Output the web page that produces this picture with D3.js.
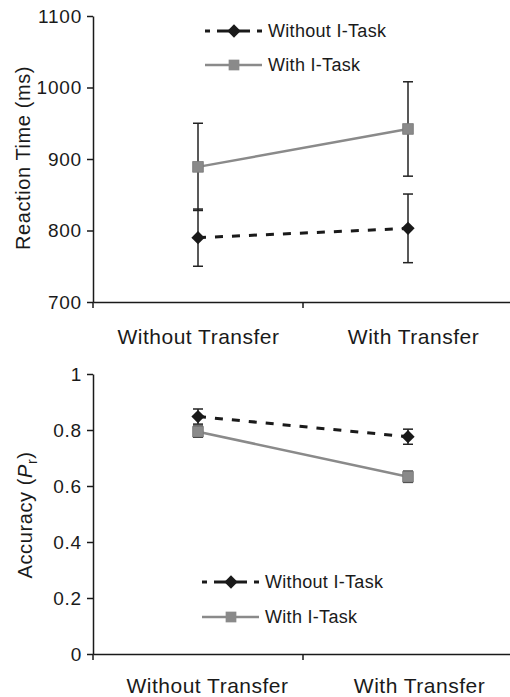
<!DOCTYPE html>
<html>
<head>
<meta charset="utf-8">
<script src="https://cdn.jsdelivr.net/npm/d3@7"></script>
<style>
  body { margin: 0; background: #fff; }
  text { font-family: "Liberation Sans", Arial, sans-serif; fill: #1a1a1a; }
</style>
</head>
<body>
<div id="chart"></div>
<script>
var categories = ["Without Transfer", "With Transfer"];
var seriesNames = ["Without I-Task", "With I-Task"];

// reaction time (ms)
var rtWithout = [790, 803];
var rtWithoutErr = [40, 48];
var rtWith = [889, 942];
var rtWithErr = [61, 66];
var rtTicks = [700, 800, 900, 1000, 1100];

// accuracy (Pr)
var accWithout = [0.848, 0.776];
var accWithoutErr = [0.027, 0.027];
var accWith = [0.794, 0.633];
var accWithErr = [0.02, 0.02];
var accTicks = [0, 0.2, 0.4, 0.6, 0.8, 1];

var W = 510, H = 697;
var svg = d3.select('#chart').append('svg')
    .attr('width', W)
    .attr('height', H);

var black = '#1a1a1a', grey = '#8a8a8a';

var x = d3.scalePoint()
    .domain(categories)
    .range([93, 513])
    .padding(0.5);

function drawPanel(cfg) {
    var g = svg.append('g');
    var y = d3.scaleLinear().domain(cfg.domain).range([cfg.bottom, cfg.top]);

    // y axis
    var yAxis = d3.axisLeft(y)
        .tickValues(cfg.ticks)
        .tickFormat(cfg.format)
        .tickSizeInner(6)
        .tickSizeOuter(0)
        .tickPadding(5);
    var ya = g.append('g').attr('transform', 'translate(93,0)').call(yAxis);
    ya.select('.domain').attr('stroke', black).attr('stroke-width', 1.5);
    ya.selectAll('.tick line').attr('stroke', black).attr('stroke-width', 1.5);
    ya.selectAll('.tick text')
        .style('font-size', '19px')
        .style('letter-spacing', '0.8px')
        .attr('fill', black);
    g.append('line')
        .attr('x1', 93).attr('x2', 93)
        .attr('y1', cfg.bottom).attr('y2', cfg.bottom + 6)
        .attr('stroke', black).attr('stroke-width', 1.5);

    // x axis
    var xa = g.append('g').attr('transform', 'translate(0,' + cfg.bottom + ')')
        .call(d3.axisBottom(x).tickSize(0).tickPadding(cfg.labelPad));
    xa.select('.domain').attr('stroke', black).attr('stroke-width', 1.5);
    xa.selectAll('.tick text')
        .attr('dx', function (d, i) { return cfg.labelDx[i]; })
        .style('font-size', '21px')
        .style('letter-spacing', '0.5px')
        .attr('fill', black);
    var mid = (x(categories[0]) + x(categories[1])) / 2;
    g.append('line')
        .attr('x1', mid).attr('x2', mid)
        .attr('y1', cfg.bottom).attr('y2', cfg.bottom + 6)
        .attr('stroke', black).attr('stroke-width', 1.5);

    // y title
    var t = g.append('text')
        .attr('transform', 'translate(' + cfg.titleX + ',' + cfg.titleY + ') rotate(-90)')
        .attr('text-anchor', 'middle')
        .style('font-size', '20px')
        .style('letter-spacing', '0.6px');
    cfg.title(t);

    var series = [
        {vals: cfg.without, errs: cfg.withoutErr, color: black, dash: '8,9', legendDash: '5,7,33,7,5,20', width: 3, shape: 'diamond'},
        {vals: cfg.withv, errs: cfg.withErr, color: grey, dash: null, legendDash: null, width: 2.5, shape: 'square'}
    ];

    // error bars
    series.forEach(function (s) {
        var eb = g.append('g');
        s.vals.forEach(function (v, i) {
            var cx = x(categories[i]);
            var lo = y(v - s.errs[i]), hi = y(v + s.errs[i]);
            eb.append('line').attr('x1', cx).attr('x2', cx).attr('y1', lo).attr('y2', hi)
                .attr('stroke', '#222').attr('stroke-width', 1.5);
            [lo, hi].forEach(function (yy) {
                eb.append('line').attr('x1', cx - 5).attr('x2', cx + 5).attr('y1', yy).attr('y2', yy)
                    .attr('stroke', '#222').attr('stroke-width', 1.5);
            });
        });
    });

    var line = d3.line()
        .x(function (d, i) { return x(categories[i]); })
        .y(function (d) { return y(d); });

    series.forEach(function (s) {
        g.append('path')
            .datum(s.vals)
            .attr('d', line)
            .attr('fill', 'none')
            .attr('stroke', s.color)
            .attr('stroke-width', s.width)
            .attr('stroke-dasharray', s.dash);
        g.selectAll(null)
            .data(s.vals)
            .enter()
            .append('path')
            .attr('transform', function (d, i) {
                return 'translate(' + x(categories[i]) + ',' + y(d) + ')' + (s.shape === 'diamond' ? ' rotate(45)' : '');
            })
            .attr('d', d3.symbol(d3.symbolSquare, s.shape === 'diamond' ? 88 : 115))
            .attr('fill', s.color)
            .attr('stroke', s.shape === 'diamond' ? 'none' : '#7a7a7a')
            .attr('stroke-width', 0.8);
    });

    // legend
    var lg = g.append('g').attr('transform', 'translate(' + cfg.legendX + ',' + cfg.legendY + ')');
    series.forEach(function (s, i) {
        var ly = i * cfg.legendGap;
        lg.append('line')
            .attr('x1', 0).attr('x2', 57).attr('y1', ly).attr('y2', ly)
            .attr('stroke', s.color).attr('stroke-width', s.width)
            .attr('stroke-dasharray', s.legendDash);
        lg.append('path')
            .attr('transform', 'translate(29,' + ly + ')' + (s.shape === 'diamond' ? ' rotate(45)' : ''))
            .attr('d', d3.symbol(d3.symbolSquare, s.shape === 'diamond' ? 88 : 115))
            .attr('fill', s.color);
        lg.append('text')
            .attr('x', 63).attr('y', ly).attr('dy', '0.35em')
            .style('font-size', '18px')
            .style('letter-spacing', '0.3px')
            .text(seriesNames[i]);
    });
}

drawPanel({
    top: 16, bottom: 302, domain: [700, 1100], ticks: rtTicks,
    format: d3.format('d'),
    without: rtWithout, withoutErr: rtWithoutErr, withv: rtWith, withErr: rtWithErr,
    labelPad: 27, labelDx: [0, 5],
    titleX: 30, titleY: 158,
    title: function (t) { t.text('Reaction Time (ms)'); },
    legendX: 205, legendY: 31, legendGap: 34
});

drawPanel({
    top: 374, bottom: 654, domain: [0, 1], ticks: accTicks,
    format: function (d) { return d === 0 || d === 1 ? String(d) : d3.format('.1f')(d); },
    without: accWithout, withoutErr: accWithoutErr, withv: accWith, withErr: accWithErr,
    labelPad: 24, labelDx: [9, 11],
    titleX: 32, titleY: 515,
    title: function (t) {
        t.append('tspan').text('Accuracy (');
        t.append('tspan').style('font-style', 'italic').text('P');
        t.append('tspan').attr('dy', 5).style('font-size', '14px').text('r');
        t.append('tspan').attr('dy', -5).text(')');
    },
    legendX: 202, legendY: 582, legendGap: 35
});
</script>
</body>
</html>
